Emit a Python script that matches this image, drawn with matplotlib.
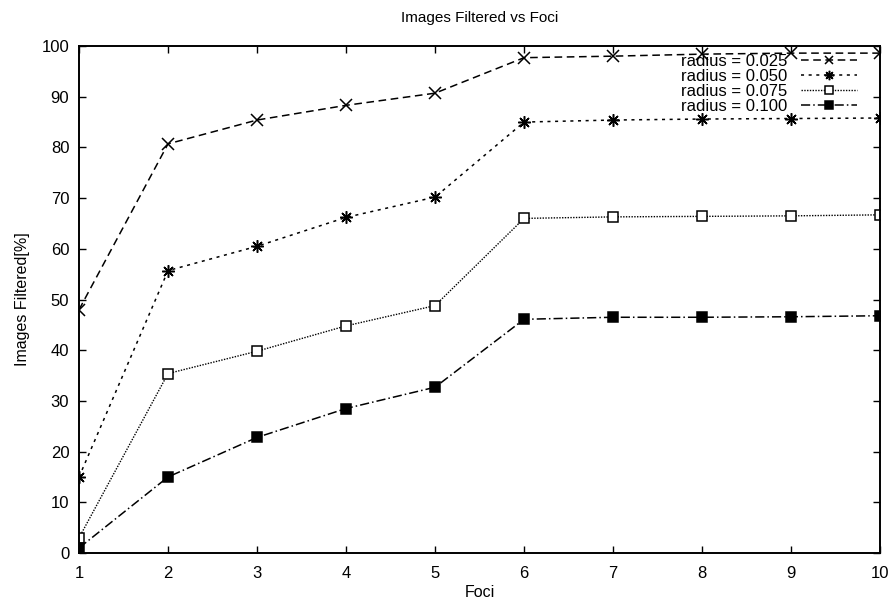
import matplotlib
matplotlib.use('Agg')
import matplotlib.pyplot as plt

# data
foci = [1, 2, 3, 4, 5, 6, 7, 8, 9, 10]
r025 = [48.0, 80.7, 85.4, 88.3, 90.7, 97.7, 98.0, 98.4, 98.6, 98.6]
r050 = [15.0, 55.7, 60.5, 66.2, 70.2, 85.0, 85.4, 85.6, 85.7, 85.8]
r075 = [3.0, 35.4, 39.8, 44.8, 48.8, 66.0, 66.3, 66.4, 66.5, 66.7]
r100 = [1.0, 15.0, 22.8, 28.5, 32.7, 46.1, 46.5, 46.5, 46.6, 46.8]
labels = ['radius = 0.025', 'radius = 0.050', 'radius = 0.075', 'radius = 0.100']

plt.rcParams['font.family'] = ['Liberation Sans', 'DejaVu Sans']

fig = plt.figure(figsize=(8.91, 6), dpi=100)
ax = fig.add_axes([0.0887, 0.0783, 0.8990, 0.8450])

# gnuplot-style line types and point types
ax.plot(foci, r025, color='black', lw=1.1, linestyle=(0, (5, 3)),
        marker='x', ms=8, mew=1.1, label=labels[0])
ax.plot(foci, r050, color='black', lw=1.1, linestyle=(0, (2, 3)),
        marker=(8, 2, 0), ms=9, mew=1.1, label=labels[1])
ax.plot(foci, r075, color='black', lw=1.0, linestyle=(0, (1, 1)),
        marker='s', ms=7, mew=1.1, mfc='white', label=labels[2])
ax.plot(foci, r100, color='black', lw=1.1, linestyle=(0, (6, 2, 1, 2)),
        marker='s', ms=7, mew=1.1, mfc='black', label=labels[3])

ax.set_xlim(1, 10)
ax.set_ylim(0, 100)
ax.set_xticks(foci)
ax.set_yticks(range(0, 101, 10))
ax.tick_params(direction='in', top=True, right=True, length=5, width=1,
               labelsize=12)
ax.tick_params(axis='x', pad=9)
ax.tick_params(axis='y', pad=7)
for s in ax.spines.values():
    s.set_linewidth(1.4)

ax.set_xlabel('Foci', fontsize=11.5, labelpad=3)
ax.set_ylabel('Images Filtered[%]', fontsize=11.5, labelpad=8)
ax.set_title('Images Filtered vs Foci', fontsize=11, pad=17)

ax.legend(loc='upper right', frameon=False, markerfirst=False, fontsize=12,
          handlelength=3.4, labelspacing=0.0, borderaxespad=0.0,
          handletextpad=0.8, markerscale=0.75,
          bbox_to_anchor=(0.98, 0.997))

plt.savefig('out.png', dpi=100)
